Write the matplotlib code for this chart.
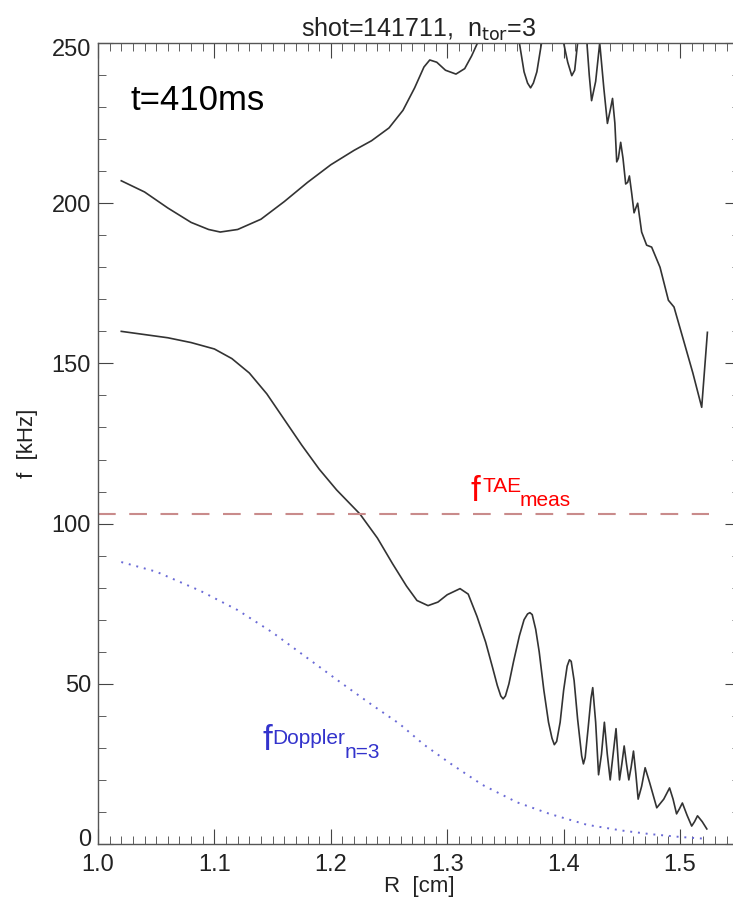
import matplotlib
matplotlib.use("Agg")
import matplotlib.pyplot as plt
import matplotlib.transforms as mtransforms
from matplotlib.ticker import MultipleLocator

plt.rcParams["font.family"] = ["Liberation Sans", "DejaVu Sans"]

# lower continuum branch
R_low = [1.020, 1.040, 1.060, 1.080, 1.100, 1.115, 1.130, 1.145, 1.160, 1.175,
         1.190, 1.205, 1.225, 1.240, 1.253, 1.265, 1.274, 1.2835, 1.292, 1.300,
         1.311, 1.318, 1.3256, 1.333, 1.339, 1.343, 1.346, 1.348, 1.350, 1.353,
         1.357, 1.362, 1.366, 1.369, 1.371, 1.373, 1.376, 1.379, 1.383, 1.387,
         1.390, 1.392, 1.394, 1.397, 1.400, 1.403, 1.405, 1.4065, 1.409, 1.412,
         1.4155, 1.417, 1.4185, 1.421, 1.4235, 1.425, 1.4275, 1.430, 1.4325, 1.435,
         1.4375, 1.440, 1.4425, 1.445, 1.4465, 1.448, 1.450, 1.452, 1.454, 1.456,
         1.458, 1.460, 1.462, 1.464, 1.467, 1.470, 1.474, 1.480, 1.486, 1.491,
         1.494, 1.497, 1.4995, 1.502, 1.506, 1.510, 1.5125, 1.515, 1.519, 1.523]
f_low = [160, 159, 158, 156.5, 154.5, 151.5, 147, 140.5, 132.5, 124.5,
         117, 110.5, 103, 95.5, 87.5, 80.5, 76, 74.4, 75.5, 77.8,
         79.7, 78, 71, 63, 55, 49.5, 46.2, 45.3, 46.2, 50,
         57, 65, 70, 71.8, 72.2, 71.6, 67, 60, 48, 38,
         33, 31, 32, 38, 48, 55.5, 57.5, 57, 51, 39,
         27.5, 25, 27, 36, 45.5, 48.8, 38, 21.6, 28, 38,
         28, 20, 28, 36, 28, 20, 25, 30.6, 25, 20,
         24, 29, 22, 14, 18, 23.8, 19, 11.3, 14, 17.5,
         14, 9.4, 11, 12.8, 9, 5.6, 7, 8.8, 7, 4.7]

# upper continuum branch (goes off the top of the frame)
R_up = [1.020, 1.040, 1.060, 1.080, 1.095, 1.105, 1.120, 1.140, 1.160, 1.180,
        1.200, 1.220, 1.235, 1.250, 1.262, 1.272, 1.280, 1.285, 1.291, 1.2985,
        1.3075, 1.315, 1.321, 1.326, 1.335, 1.344, 1.353, 1.362, 1.366, 1.369,
        1.3716, 1.374, 1.377, 1.381, 1.3905, 1.400, 1.4035, 1.407, 1.4095, 1.412,
        1.416, 1.420, 1.422, 1.424, 1.4275, 1.431, 1.4345, 1.4376, 1.440, 1.442,
        1.444, 1.4456, 1.447, 1.449, 1.451, 1.4533, 1.455, 1.4565, 1.4585, 1.4605,
        1.462, 1.4636, 1.467, 1.4713, 1.4756, 1.4828, 1.490, 1.4948, 1.503, 1.511,
        1.5186, 1.5235]
f_up = [207, 203.5, 198.5, 194, 191.8, 191, 191.8, 195, 200.5, 206.5,
        212, 216.5, 219.5, 223.5, 229, 236, 242.5, 244.7, 244, 241.5,
        240.3, 242, 246, 250, 262, 268, 262, 250, 241, 237.5,
        236, 237.5, 241, 250, 262, 250, 244, 239.8, 241.5, 250,
        262, 250, 240, 232, 238, 250, 236, 224.9, 229, 232.7,
        225, 212.9, 214, 219, 214, 206, 206.5, 208.5, 203, 197,
        198.5, 200, 191, 186.9, 186.3, 180, 169.7, 167.6, 157.2, 147,
        136.3, 159.7]

# Doppler shift for n=3
R_dop = [1.020, 1.050, 1.088, 1.120, 1.150, 1.180, 1.210, 1.235, 1.259, 1.280,
         1.302, 1.330, 1.360, 1.388, 1.420, 1.450, 1.474, 1.500, 1.523]
f_dop = [88, 85, 79, 73, 66, 58, 50, 43.5, 37.5, 31,
         25.3, 18.5, 13, 9.4, 6, 4.2, 3.1, 2.2, 1.6]

# measured TAE frequency
R_tae = [1.0, 1.525]
f_tae = [103, 103]

x_ticks = [1.0, 1.1, 1.2, 1.3, 1.4, 1.5]
x_labels = ["1.0", "1.1", "1.2", "1.3", "1.4", "1.5"]
y_ticks = [0, 50, 100, 150, 200, 250]

W, H = 733, 907
fig = plt.figure(figsize=(W / 100, H / 100), dpi=100)
ax = fig.add_axes([98 / W, 63 / H, 642 / W, 801 / H])

ax.plot(R_low, f_low, color="#333333", lw=1.2)
ax.plot(R_up, f_up, color="#333333", lw=1.2)
ax.plot(R_dop, f_dop, color="#6a6ad6", lw=1.4, linestyle=(0, (1, 3)))
ax.plot(R_tae, f_tae, color="#c98b8b", lw=1.5, linestyle=(0, (8.5, 6.5)))

ax.set_xlim(1.0, 1.5515)
ax.set_ylim(0, 250)
ax.set_xticks(x_ticks)
ax.set_xticklabels(x_labels)
ax.set_yticks(y_ticks)
ax.xaxis.set_minor_locator(MultipleLocator(0.01))
ax.yaxis.set_minor_locator(MultipleLocator(10))
ax.tick_params(which="both", direction="in", top=True, right=True,
               labelsize=17, colors="#444444", labelcolor="#222222")
ax.tick_params(axis="x", which="major", length=11, pad=7)
ax.tick_params(axis="y", which="major", length=11, pad=5)
ax.tick_params(which="minor", length=6)
for s in ax.spines.values():
    s.set_color("#555555")
    s.set_linewidth(1.0)

# the end labels sit a little inside the frame, as in the original
ylabs = ax.get_yticklabels()
ylabs[0].set_transform(ylabs[0].get_transform() +
                       mtransforms.ScaledTranslation(0, 7 / 100, fig.dpi_scale_trans))
ylabs[-1].set_transform(ylabs[-1].get_transform() +
                        mtransforms.ScaledTranslation(0, -5 / 100, fig.dpi_scale_trans))

ax.set_xlabel("R  [cm]", fontsize=16, labelpad=0, color="#222222")
ax.set_ylabel("f  [kHz]", fontsize=16, labelpad=10, color="#222222")
ax.set_title(r"shot=141711,  n$_{\mathrm{tor}}$=3", fontsize=18, pad=4,
             color="#222222")

ax.text(1.028, 232, "t=410ms", fontsize=25, va="center", ha="left",
        color="black")

# f^TAE_meas
ax.text(1.3196, 107, "f", fontsize=25, color="red", ha="left", va="baseline")
ax.text(1.330, 110, "TAE", fontsize=15, color="red", ha="left", va="baseline")
ax.text(1.362, 105.6, "meas", fontsize=15, color="red", ha="left",
        va="baseline")

# f^Doppler_n=3
ax.text(1.1409, 29.4, "f", fontsize=25, color="#3333cc", ha="left",
        va="baseline")
ax.text(1.1495, 31.25, "Doppler", fontsize=15, color="#3333cc", ha="left",
        va="baseline")
ax.text(1.2122, 26.9, "n=3", fontsize=15, color="#3333cc", ha="left",
        va="baseline")

fig.savefig("out.png", dpi=100)
